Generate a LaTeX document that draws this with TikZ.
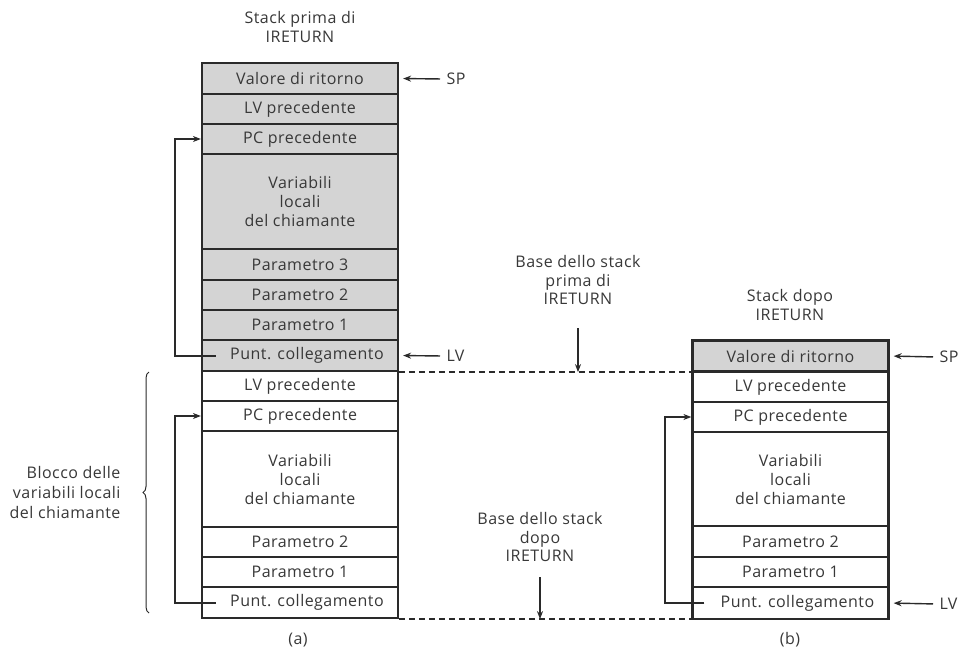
\documentclass[tikz,border=0pt]{standalone}
\usepackage{fontspec}
\setmainfont[LetterSpace=3]{Open Sans}
\usetikzlibrary{arrows.meta,decorations.pathreplacing}
\definecolor{ink}{HTML}{2A2A2A}
\definecolor{txt}{HTML}{383838}
\definecolor{shade}{HTML}{D4D4D4}
\tikzset{
  cell/.style={draw=ink, line width=2.2pt, minimum width=196pt, inner sep=0pt, align=center, text=txt, font=\fontsize{16}{19}\selectfont},
  grey/.style={cell, fill=shade},
  white/.style={cell, fill=white},
  lbl/.style={text=txt, align=center, font=\fontsize{16}{18.5}\selectfont},
  ptr/.style={draw=ink, line width=1.4pt, -{Stealth[length=8pt,width=6pt]}},
  link/.style={draw=ink, line width=2pt, -{Stealth[length=8pt,width=6pt]}},
  dashline/.style={draw=ink, line width=2pt, dash pattern=on 6pt off 4pt},
}
\begin{document}
\begin{tikzpicture}[x=1pt,y=-1pt]
\useasboundingbox (0,0) rectangle (964,662);
% titles
\node[lbl] (ta) at (300,27) {Stack prima di\\IRETURN};
\node[lbl] (tb) at (790,305) {Stack dopo\\IRETURN};
% left stack
\node[grey, minimum height=31pt] (a1) at (300,78.5) {Valore di ritorno};
\node[grey, minimum height=30pt] (a2) at (300,109) {LV precedente};
\node[grey, minimum height=30pt] (a3) at (300,139) {PC precedente};
\node[grey, minimum height=95pt] (a4) at (300,201.5) {Variabili\\locali\\del chiamante};
\node[grey, minimum height=31pt] (a5) at (300,264.5) {Parametro 3};
\node[grey, minimum height=30pt] (a6) at (300,295) {Parametro 2};
\node[grey, minimum height=30pt] (a7) at (300,325) {Parametro 1};
\node[grey, minimum height=31pt] (a8) at (300,355.5) {\hspace*{14pt}Punt. collegamento};
\node[white, minimum height=30pt] (a9) at (300,386) {LV precedente};
\node[white, minimum height=30pt] (a10) at (300,416) {PC precedente};
\node[white, minimum height=96pt] (a11) at (300,479) {Variabili\\locali\\del chiamante};
\node[white, minimum height=30pt] (a12) at (300,542) {Parametro 2};
\node[white, minimum height=30pt] (a13) at (300,572) {Parametro 1};
\node[white, minimum height=31pt] (a14) at (300,602.5) {\hspace*{14pt}Punt. collegamento};
% right stack
\node[grey, minimum height=31pt] (b1) at (790.5,356) {Valore di ritorno};
\node[white, minimum height=30pt] (b2) at (790.5,387) {LV precedente};
\node[white, minimum height=30pt] (b3) at (790.5,417) {PC precedente};
\node[white, minimum height=94pt] (b4) at (790.5,479) {Variabili\\locali\\del chiamante};
\node[white, minimum height=31pt] (b5) at (790.5,541.5) {Parametro 2};
\node[white, minimum height=30pt] (b6) at (790.5,572) {Parametro 1};
\node[white, minimum height=32pt] (b7) at (790.5,603) {\hspace*{14pt}Punt. collegamento};
% link loops
\draw[link] ([xshift=15pt]a8.west) -- ++(-41pt,0) |- (a3.west);
\draw[link] ([xshift=15pt]a14.west) -- ++(-41pt,0) |- (a10.west);
\draw[link] ([xshift=13pt]b7.west) -- ++(-39pt,0) |- (b3.west);
% SP / LV pointers
\node[lbl, anchor=west] (spa) at (443,79) {SP};
\node[lbl, anchor=west] (lva) at (443,356) {LV};
\node[lbl, anchor=west] (spb) at (936,357) {SP};
\node[lbl, anchor=west] (lvb) at (936,604) {LV};
\draw[ptr, shorten <=3pt, shorten >=4pt] (spa.west) -- (a1.east);
\draw[ptr, shorten <=3pt, shorten >=4pt] (lva.west) -- (a8.east);
\draw[ptr, shorten <=3pt, shorten >=4pt] (spb.west) -- (b1.east);
\draw[ptr, shorten <=3pt, shorten >=4pt] (lvb.west) -- (b7.east);
% dashed base lines
\coordinate (d1) at (a8.south east -| b1.west);
\coordinate (d2) at (a14.south east -| b7.west);
\draw[dashline] (a8.south east) -- (d1);
\draw[dashline] (a14.south east) -- (d2);
% base labels
\node[lbl] (basea) at (578,280) {Base dello stack\\prima di\\IRETURN};
\node[lbl] (baseb) at (540,537) {Base dello stack\\dopo\\IRETURN};
\coordinate (ba) at (basea.south |- a8.south);
\coordinate (bb) at (baseb.south |- a14.south);
\draw[ptr, shorten <=20pt] (basea.south) -- (ba);
\draw[ptr, shorten <=12pt] (baseb.south) -- (bb);
% brace
\coordinate (brb) at (149,613);
\coordinate (brt) at (149,372);
\draw[draw=ink, line width=1pt, decorate, decoration={brace, amplitude=6pt}] (brb) -- (brt);
\node[lbl, anchor=east, align=right, font=\fontsize{16}{20}\selectfont] (blk) at (124,492) {Blocco delle\\variabili locali\\del chiamante};
% captions
\node[lbl] (capa) at (298,640) {(a)};
\node[lbl] (capb) at (790,640) {(b)};
\end{tikzpicture}
\end{document}
